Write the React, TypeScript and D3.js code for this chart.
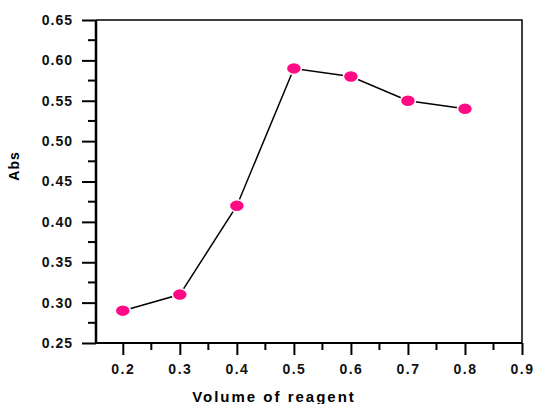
import React, { useEffect, useRef } from "react";
import * as d3 from "d3";

const volumes = [0.2, 0.3, 0.4, 0.5, 0.6, 0.7, 0.8];
const absValues = [0.29, 0.31, 0.42, 0.59, 0.58, 0.55, 0.54];
const xTicks = [0.2, 0.3, 0.4, 0.5, 0.6, 0.7, 0.8, 0.9];
const yTicks = [0.25, 0.3, 0.35, 0.4, 0.45, 0.5, 0.55, 0.6, 0.65];

export default function App() {
  const svgRef = useRef<SVGSVGElement>(null);
  const width = 537;
  const height = 404;
  const left = 96;
  const right = 522;
  const top = 20;
  const bottom = 343;

  useEffect(() => {
    const svg = d3.select(svgRef.current);
    svg.selectAll("*").remove();

    const x = d3.scaleLinear().domain([0.153, 0.9]).range([left, right]);
    const y = d3.scaleLinear().domain([0.25, 0.65]).range([bottom, top]);
    const font = "Arial, 'Liberation Sans', sans-serif";

    // frame top and right
    svg
      .append("path")
      .attr("d", `M${left},${top}H${right}V${bottom}`)
      .attr("fill", "none")
      .attr("stroke", "#000")
      .attr("stroke-width", 1.5);

    const xAxis = d3
      .axisBottom(x)
      .tickValues(xTicks)
      .tickSize(12)
      .tickPadding(9)
      .tickFormat(d3.format(".1f"));
    const gx = svg
      .append("g")
      .attr("transform", `translate(0,${bottom})`)
      .call(xAxis);
    gx.select(".domain").attr("stroke-width", 2).attr("d", `M${left},0H${right}`);
    gx.selectAll(".tick line").attr("stroke-width", 2);
    gx.selectAll(".tick text")
      .attr("font-family", font)
      .attr("font-weight", "bold")
      .attr("font-size", 14)
      .attr("letter-spacing", 1.5)
      .attr("fill", "#111");

    // x minor ticks
    svg
      .append("g")
      .selectAll("line")
      .data(xTicks.slice(0, -1).map((v) => v + 0.05))
      .enter()
      .append("line")
      .attr("x1", (d) => x(d))
      .attr("x2", (d) => x(d))
      .attr("y1", bottom)
      .attr("y2", bottom + 7)
      .attr("stroke", "#000")
      .attr("stroke-width", 2);

    const yAxis = d3
      .axisLeft(y)
      .tickValues(yTicks)
      .tickSize(14)
      .tickPadding(9)
      .tickFormat(d3.format(".2f"));
    const gy = svg.append("g").attr("transform", `translate(${left},0)`).call(yAxis);
    gy.select(".domain").attr("stroke-width", 2.5).attr("d", `M0,${top}V${bottom}`);
    gy.selectAll(".tick line").attr("stroke-width", 2);
    gy.selectAll(".tick text")
      .attr("font-family", font)
      .attr("font-weight", "bold")
      .attr("font-size", 14)
      .attr("letter-spacing", 1)
      .attr("fill", "#111");

    // y minor ticks
    svg
      .append("g")
      .selectAll("line")
      .data(yTicks.slice(0, -1).map((v) => v + 0.025))
      .enter()
      .append("line")
      .attr("x1", left - 8)
      .attr("x2", left)
      .attr("y1", (d) => y(d))
      .attr("y2", (d) => y(d))
      .attr("stroke", "#000")
      .attr("stroke-width", 2);

    const data = volumes.map((v, i) => ({ v, a: absValues[i] }));

    const line = d3
      .line<{ v: number; a: number }>()
      .x((d) => x(d.v))
      .y((d) => y(d.a));

    svg
      .append("path")
      .datum(data)
      .attr("d", line)
      .attr("fill", "none")
      .attr("stroke", "#000")
      .attr("stroke-width", 1.5);

    svg
      .append("g")
      .selectAll("ellipse")
      .data(data)
      .enter()
      .append("ellipse")
      .attr("cx", (d) => x(d.v))
      .attr("cy", (d) => y(d.a))
      .attr("rx", 7.5)
      .attr("ry", 6)
      .attr("fill", "#ff0a84")
      .attr("stroke", "#fff")
      .attr("stroke-width", 1.5);

    svg
      .append("text")
      .attr("transform", `translate(19,166) rotate(-90)`)
      .attr("text-anchor", "middle")
      .attr("font-family", font)
      .attr("font-weight", "bold")
      .attr("font-size", 14)
      .attr("letter-spacing", 1)
      .text("Abs");

    svg
      .append("text")
      .attr("x", 274)
      .attr("y", 402)
      .attr("text-anchor", "middle")
      .attr("font-family", font)
      .attr("font-weight", "bold")
      .attr("font-size", 15)
      .attr("letter-spacing", 2)
      .text("Volume of reagent");
  }, []);

  return (
    <svg
      ref={svgRef}
      width={width}
      height={height}
      style={{ position: "absolute", left: 0, top: 0, background: "#fff" }}
    />
  );
}
